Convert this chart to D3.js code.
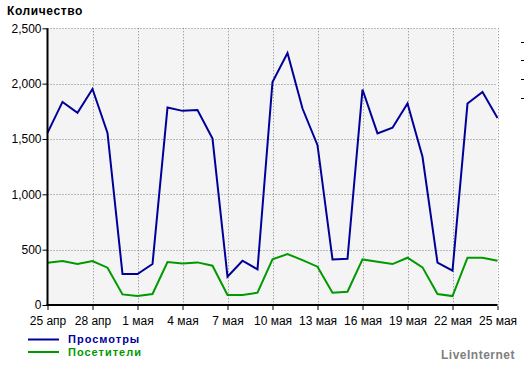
<!DOCTYPE html>
<html><head><meta charset="utf-8">
<script src="https://cdn.jsdelivr.net/npm/d3@7"></script>
<style>body{margin:0;background:#fff}svg{display:block}text{font-family:"Liberation Sans",Arial,sans-serif}</style>
</head><body>
<script>
const days = ["25 апр","26 апр","27 апр","28 апр","29 апр","30 апр","1 мая","2 мая","3 мая","4 мая","5 мая","6 мая","7 мая","8 мая","9 мая","10 мая","11 мая","12 мая","13 мая","14 мая","15 мая","16 мая","17 мая","18 мая","19 мая","20 мая","21 мая","22 мая","23 мая","24 мая","25 мая"];
const views = [1555,1835,1736,1952,1555,280,280,370,1784,1754,1762,1504,256,400,322,2015,2277,1775,1444,412,418,1947,1550,1601,1820,1339,382,310,1820,1925,1690];
const visitors = [382,397,370,397,337,96,81,99,388,376,385,355,90,90,111,412,460,406,346,111,120,412,391,370,427,340,99,81,427,427,400];
const xTickLabels = ["25 апр","28 апр","1 мая","4 мая","7 мая","10 мая","13 мая","16 мая","19 мая","22 мая","25 мая"];
const yTicks = [0,500,1000,1500,2000,2500];
const seriesNames = ["Просмотры","Посетители"];
const seriesColors = ["#000099","#009900"];

const W=524,H=367;
const svg=d3.select("body").append("svg").attr("width",W).attr("height",H);
const x0=47.5,x1=497.5,yTop=28.3,yBot=305;
const x=d3.scalePoint().domain(days).range([x0,x1]);
const y=d3.scaleLinear().domain([0,2500]).range([yBot,yTop]);

svg.append("rect").attr("x",x0).attr("y",yTop).attr("width",x1-x0).attr("height",yBot-yTop).attr("fill","#f4f4f4");

const grid=svg.append("g").attr("stroke","#808080").attr("stroke-dasharray","1,2").attr("stroke-width",1);
yTicks.filter(d=>d>0).forEach(v=>{
  grid.append("line").attr("x1",x0).attr("x2",x1).attr("y1",Math.round(y(v))+0.5).attr("y2",Math.round(y(v))+0.5);
});
xTickLabels.slice(1).forEach(d=>{
  const xx=Math.round(x(d))+0.5;
  grid.append("line").attr("x1",xx).attr("x2",xx).attr("y1",yTop).attr("y2",yBot);
});

const line=d3.line().x((d,i)=>x(days[i])).y(d=>y(d));
[views,visitors].forEach((s,k)=>{
  svg.append("path").datum(s).attr("d",line).attr("fill","none").attr("stroke",seriesColors[k]).attr("stroke-width",2).attr("stroke-linejoin","miter");
});

// axes
const yAxis=d3.axisLeft(y).tickValues(yTicks).tickFormat(d3.format(",")).tickSize(5).tickPadding(1);
const gy=svg.append("g").attr("transform",`translate(${x0},0)`).call(yAxis);
gy.select(".domain").remove();
gy.selectAll("text").attr("font-size",12).attr("fill","#000").attr("font-family","Liberation Sans, Arial, sans-serif");
gy.selectAll("line").attr("stroke","#000");
svg.append("line").attr("x1",x0).attr("x2",x0).attr("y1",yTop).attr("y2",yBot+1).attr("stroke","#000").attr("stroke-width",2);

const xAxis=d3.axisBottom(x).tickValues(xTickLabels).tickSize(4).tickPadding(6);
const gx=svg.append("g").attr("transform",`translate(0,${yBot+1})`).call(xAxis);
gx.select(".domain").remove();
gx.selectAll("text").attr("font-size",12).attr("fill","#000").attr("font-family","Liberation Sans, Arial, sans-serif");
gx.selectAll("line").attr("stroke","#000");
svg.append("line").attr("x1",x0-1).attr("x2",x1).attr("y1",yBot).attr("y2",yBot).attr("stroke","#000").attr("stroke-width",2);

// title
svg.append("text").attr("x",7).attr("y",15).attr("font-size",12).attr("font-weight","bold").attr("letter-spacing",0.6).text("Количество");

// legend
seriesNames.forEach((n,k)=>{
  const yy=339.5+k*12.5;
  svg.append("line").attr("x1",28).attr("x2",59).attr("y1",yy).attr("y2",yy).attr("stroke",seriesColors[k]).attr("stroke-width",2);
  svg.append("text").attr("x",68).attr("y",yy+3.5).attr("font-size",11).attr("font-weight","bold").attr("letter-spacing",1).attr("fill",seriesColors[k]).text(n);
});
svg.append("text").attr("x",515).attr("y",359).attr("text-anchor","end").attr("font-size",12).attr("font-weight","bold").attr("letter-spacing",0.5).attr("fill","#808080").text("LiveInternet");

// clipped legend remnants on right
[42,60,79,98].forEach(yy=>{
  svg.append("line").attr("x1",521).attr("x2",524).attr("y1",yy+0.5).attr("y2",yy+0.5).attr("stroke","#000");
});
</script>
</body></html>
